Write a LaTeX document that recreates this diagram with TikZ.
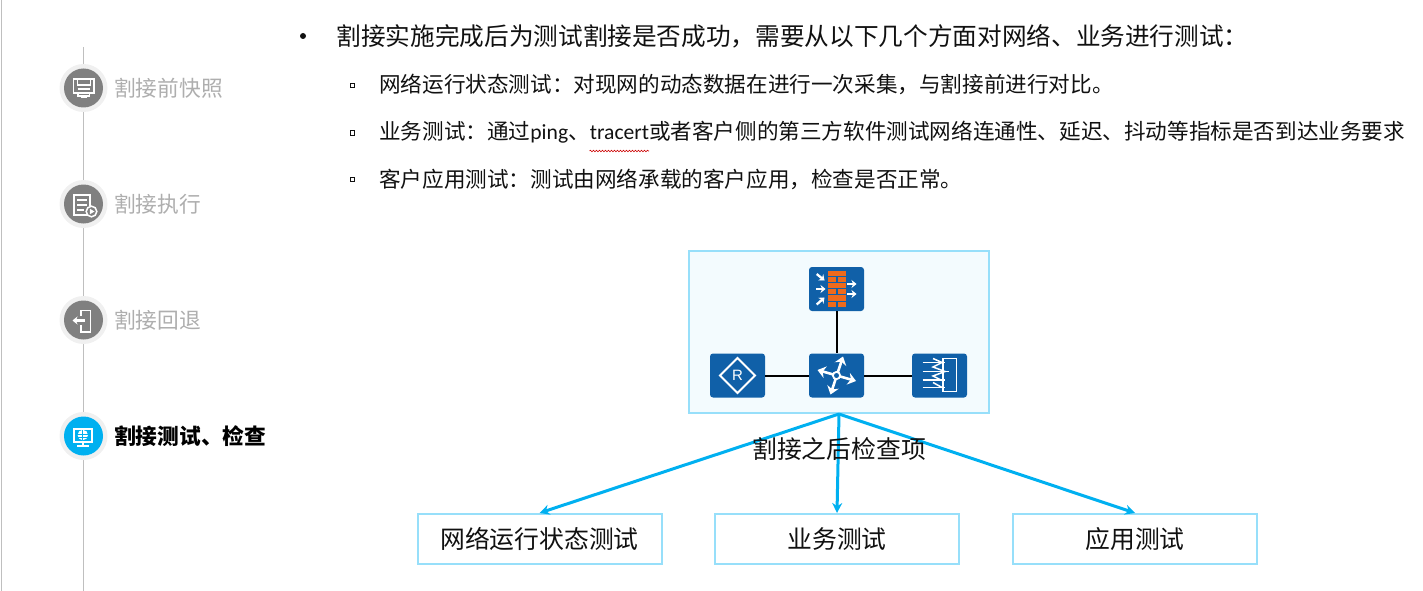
\documentclass[tikz,border=0pt]{standalone}
\usepackage{fontspec}
\setmainfont{Noto Sans CJK SC}
\newfontfamily\lat{Carlito}
\usetikzlibrary{arrows.meta,decorations.pathmorphing}
\definecolor{skyline}{HTML}{97DFFA}
\definecolor{skyfill}{HTML}{F3FBFE}
\definecolor{arrowblue}{HTML}{00B0F0}
\definecolor{devblue}{HTML}{1060A8}
\definecolor{brick}{HTML}{EE6A1C}
\definecolor{tlgray}{HTML}{BFBFBF}
\definecolor{stepgray}{HTML}{808080}
\definecolor{halo}{HTML}{F0F0F0}
\definecolor{labelgray}{HTML}{AEAEAE}
\definecolor{ink}{HTML}{111111}
\tikzset{
  halonode/.style={circle,fill=halo,minimum size=48pt,inner sep=0pt},
  discgray/.style={circle,fill=stepgray,minimum size=39pt,inner sep=0pt},
  discblue/.style={circle,fill=arrowblue,minimum size=39pt,inner sep=0pt},
  steplabel/.style={anchor=west,inner sep=0pt,text=labelgray,font=\fontsize{21.7}{24}\selectfont},
  headline/.style={anchor=west,inner sep=0pt,text=ink,font=\fontsize{24.65}{28}\selectfont},
  subline/.style={anchor=west,inner sep=0pt,text=ink,font=\fontsize{21.6}{25}\selectfont},
  checkbox/.style={draw=skyline,line width=2pt,fill=white,minimum width=244pt,minimum height=50pt,inner sep=0pt,text=ink,font=\fontsize{24.8}{28}\selectfont},
  device/.style={rounded corners=3pt,fill=devblue,minimum width=55pt,minimum height=44pt,inner sep=0pt},
  link/.style={draw=black,line width=2pt},
  flow/.style={draw=arrowblue,line width=3pt,-{Stealth[length=10pt,width=10pt]}},
  wi/.style={draw=white,line width=1.5pt},
  wa/.style={draw=white,line width=2.3pt,-{Stealth[length=5pt,width=8pt]}},
  wb/.style={draw=white,line width=2.6pt,{Stealth[length=8pt,width=12pt]}-{Stealth[length=8pt,width=12pt]}},
  bricks/.style={fill=brick,draw=none},
}
\begin{document}
\begin{tikzpicture}[x=1pt,y=-1pt]
\useasboundingbox (0,0) rectangle (1423,591);
% page edge and timeline
\coordinate (edgetop) at (1.5,0); \coordinate (edgebot) at (1.5,591);
\draw[tlgray,line width=1pt] (edgetop) -- (edgebot);
\coordinate (tltop) at (83.5,47); \coordinate (tlbot) at (83.5,591);
\draw[tlgray,line width=1pt] (tltop) -- (tlbot);
% step discs
\node[halonode] (h1) at (83.5,88) {}; \node[discgray] (d1) at (83.5,88) {};
\node[halonode] (h2) at (83.5,204) {}; \node[discgray] (d2) at (83.5,204) {};
\node[halonode] (h3) at (83.5,320) {}; \node[discgray] (d3) at (83.5,320) {};
\node[halonode] (h4) at (83.5,436) {}; \node[discblue] (d4) at (83.5,436) {};
\node[steplabel] (s1) at (114,88) {割接前快照};
\node[steplabel] (s2) at (114,204) {割接执行};
\node[steplabel] (s3) at (114,320) {割接回退};
\node[steplabel,text=black,font=\fontsize{21.7}{24}\selectfont\bfseries] (s4) at (114,436) {割接测试、检查};
% icon 1
\draw[wi] (73.5,79) rectangle (94,93);
\draw[wi] (77.5,79) -- (77.5,85) -- (90.5,85) -- (90.5,79);
\draw[wi] (77.5,89) -- (90,89);
\draw[wi] (78,93) -- (78,96) -- (89.5,96) -- (89.5,93);
\fill[white] (81,96) rectangle (86.5,98.5);
% icon 2
\draw[wi] (90,215) -- (74,215) -- (74,195) -- (90,195) -- (90,206);
\draw[wi] (77,200) -- (87,200) (77,205) -- (87,205) (77,210) -- (84,210);
\filldraw[wi,fill=stepgray] (91.5,211.5) circle (5.3pt);
\fill[white] (89.8,208.7) -- (94.5,211.5) -- (89.8,214.3) -- cycle;
% icon 3
\draw[wi] (81,316) -- (81,310.5) -- (90.5,310.5) -- (90.5,332) -- (81,332) -- (81,325);
\draw[wa] (85,320.5) -- (72.5,320.5);
% icon 4
\fill[white] (73,427.5) rectangle (92.5,443);
\fill[arrowblue] (75,429.5) rectangle (90.5,441);
\draw[white,line width=1.6pt] (83,443) -- (83,445);
\draw[white,line width=1.4pt] (77,445.8) -- (89,445.8);
\fill[white] (82.8,435) circle (5.2pt);
\draw[arrowblue,line width=.7pt] (77,434) -- (89,434) (78,437) -- (88,437) (82.8,430) -- (82.8,440);
% text block
\fill[ink] (303,36) circle (3pt);
\node[headline] (t1) at (336.3,36.5) {割接实施完成后为测试割接是否成功，需要从以下几个方面对网络、业务进行测试：};
\draw[ink,line width=.8pt] (350.3,83.3) rectangle (354.7,87.7);
\draw[ink,line width=.8pt] (350.3,130.8) rectangle (354.7,135.2);
\draw[ink,line width=.8pt] (350.3,177.3) rectangle (354.7,181.7);
\node[subline] (t2) at (379,84) {网络运行状态测试：对现网的动态数据在进行一次采集，与割接前进行对比。};
\node[subline] (t3) at (379,132) {业务测试：通过{\lat ping}、{\lat tracert}或者客户侧的第三方软件测试网络连通性、延迟、抖动等指标是否到达业务要求};
\node[subline] (t4) at (379,179) {客户应用测试：测试由网络承载的客户应用，检查是否正常。};
\coordinate (w1) at (589.5,151); \coordinate (w2) at (649,151);
\draw[red!80!black,line width=.6pt,decorate,decoration={snake,amplitude=.8pt,segment length=3pt}] (w1) -- (w2);
% network container
\node[draw=skyline,fill=skyfill,line width=2pt,minimum width=300pt,minimum height=162pt,inner sep=0pt] (hub) at (839,332) {};
\node[device] (fw) at (836.5,289) {};
\node[device] (sw) at (836.5,375.5) {};
\node[device] (rt) at (737.5,375.5) {};
\node[device] (lb) at (939.5,375.5) {};
\draw[link] (fw) -- (sw);
\draw[link] (rt) -- (sw);
\draw[link] (sw) -- (lb);
% firewall icon
\fill[bricks] (828,271) rectangle (845.5,276);
\fill[bricks] (828,277.2) rectangle (836,282);  \fill[bricks] (837.5,277.2) rectangle (845.5,282);
\fill[bricks] (828,283.2) rectangle (845.5,288);
\fill[bricks] (828,289.2) rectangle (836,294);  \fill[bricks] (837.5,289.2) rectangle (845.5,294);
\fill[bricks] (828,295.2) rectangle (845.5,300.5);
\fill[bricks] (828,301.7) rectangle (836,306.7);  \fill[bricks] (837.5,301.7) rectangle (845.5,306.7);
\draw[wa] (816.7,274) -- (824.5,280.5);
\draw[wa] (816,289) -- (825.5,289);
\draw[wa] (816.7,304.5) -- (824.5,297.5);
\draw[wa] (847.3,284) -- (856.5,284);
\draw[wa] (847.3,294) -- (856.5,294);
% switch icon
\draw[wb] (817.5,370) -- (856,381);
\draw[wb] (843,356.5) -- (830.5,394.5);
\draw[white,line width=1.8pt,fill=devblue] (836.5,375.5) circle (3.6pt);
% router icon
\draw[white,line width=1.8pt] (737.5,358) -- (755,375.5) -- (737.5,393) -- (720,375.5) -- cycle;
\node[text=white,inner sep=0pt,font=\fontsize{15}{15}\selectfont\fontspec{Liberation Sans}] (rr) at (737.5,375.5) {R};
% load balancer icon
\draw[white,line width=1.8pt] (943,358.5) rectangle (956.5,391.5);
\draw[wi] (922.5,362.5) -- (945,362.5);
\draw[wi] (922.5,371.5) -- (949,371.5);
\draw[wi] (922.5,380) -- (945,380);
\draw[wi] (922.5,387.5) -- (945,387.5);
\draw[wi] (933,358.5) -- (942,362.5) -- (933,367) -- (945,371.5) -- (933,376) -- (942,380.5);
\draw[wi] (933,382.5) -- (942,387.5);
% targets
\node[checkbox] (c1) at (539.5,539) {网络运行状态测试};
\node[checkbox] (c2) at (837,539) {业务测试};
\node[checkbox] (c3) at (1135,539) {应用测试};
\draw[flow] (hub.south) -- (c1.north);
\draw[flow] (hub.south) -- (c2.north);
\draw[flow] (hub.south) -- (c3.north);
\node[inner sep=0pt,text=ink,font=\fontsize{24.8}{28}\selectfont] (cap) at (839,449) {割接之后检查项};
\end{tikzpicture}
\end{document}
